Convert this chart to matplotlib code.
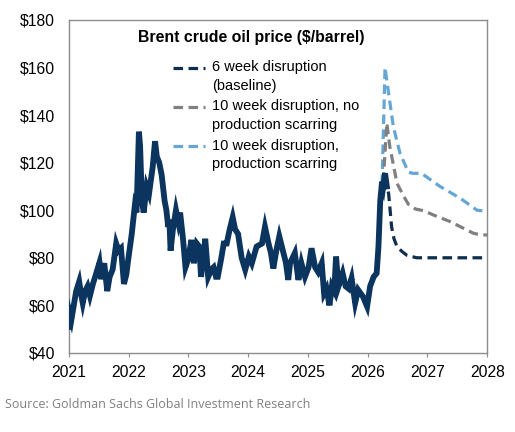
import matplotlib
matplotlib.use("Agg")
import numpy as np
import matplotlib.pyplot as plt
from matplotlib.ticker import FixedLocator
from matplotlib.legend_handler import HandlerLine2D

# ---------------- data ----------------
hist_t = [2021.00, 2021.02, 2021.04, 2021.08, 2021.12, 2021.17, 2021.20, 2021.23, 2021.27, 2021.31,
          2021.35, 2021.40, 2021.45, 2021.51, 2021.54, 2021.59, 2021.64, 2021.68, 2021.73, 2021.79,
          2021.83, 2021.87, 2021.92, 2021.96, 2021.99, 2022.05, 2022.10, 2022.13, 2022.17, 2022.19,
          2022.22, 2022.25, 2022.30, 2022.34, 2022.40, 2022.44, 2022.47, 2022.51, 2022.55, 2022.60,
          2022.63, 2022.66, 2022.68, 2022.70, 2022.74, 2022.79, 2022.83, 2022.86, 2022.91, 2022.95,
          2022.99, 2023.05, 2023.09, 2023.14, 2023.18, 2023.21, 2023.25, 2023.28, 2023.33, 2023.38,
          2023.42, 2023.46, 2023.49, 2023.55, 2023.59, 2023.64, 2023.69, 2023.74, 2023.78, 2023.83,
          2023.89, 2023.95, 2024.01, 2024.06, 2024.14, 2024.23, 2024.28, 2024.34, 2024.38, 2024.42,
          2024.47, 2024.52, 2024.59, 2024.63, 2024.67, 2024.70, 2024.78, 2024.84, 2024.89, 2024.95,
          2025.01, 2025.06, 2025.12, 2025.17, 2025.23, 2025.27, 2025.31, 2025.36, 2025.40, 2025.44,
          2025.47, 2025.51, 2025.58, 2025.63, 2025.68, 2025.73, 2025.79, 2025.84, 2025.92, 2025.99,
          2026.04, 2026.10, 2026.15, 2026.18, 2026.21, 2026.24, 2026.26, 2026.29, 2026.32]
hist_p = [51, 56, 54, 60, 66, 70, 65, 61, 66, 68,
          64, 69, 73, 78, 71, 77.7, 66, 72, 75, 86,
          83, 84, 69, 73, 79, 90, 101.5, 99, 133, 127,
          104, 99, 110, 107, 118, 129, 122.5, 120, 115, 104,
          100, 93, 96, 83, 92, 100, 95, 99, 87.5, 76,
          79, 87.5, 77.7, 86, 84.7, 72, 80, 88, 72, 75,
          76, 72, 72, 80, 86, 86, 92, 97, 92, 90,
          80, 75, 80.5, 77.7, 84.7, 86, 93, 86, 82, 75.5,
          83, 89, 82, 78, 70.7, 77.7, 82, 70.7, 77.7, 72,
          76, 84, 76, 74, 77.7, 65, 67, 60, 68, 66,
          80.5, 68, 73.5, 68, 67, 71.4, 61, 66.5, 63.7, 59.5,
          68, 72, 73.5, 84.7, 104, 112, 110, 115.5, 110]

base_t = [2026.29, 2026.35, 2026.40, 2026.44, 2026.49, 2026.58, 2026.66, 2026.82, 2028.0]
base_p = [114, 107, 93, 88, 84.7, 82.5, 81, 80, 80]

noscar_t = [2026.26, 2026.32, 2026.37, 2026.49, 2026.60, 2026.68, 2026.80, 2026.93, 2027.10,
            2027.38, 2027.77, 2027.90, 2028.0]
noscar_p = [112, 136.6, 126.7, 111.3, 106, 102.5, 100.5, 99.8, 98, 95.2, 90.3, 89.6, 89.6]

scar_t = [2026.24, 2026.29, 2026.35, 2026.43, 2026.54, 2026.68, 2026.75, 2026.90, 2027.21,
          2027.55, 2027.83, 2028.0]
scar_p = [111, 160, 149, 135, 124, 116, 115.5, 115.5, 110, 105, 100, 99.5]

labels = ["6 week disruption\n(baseline)",
          "10 week disruption, no\nproduction scarring",
          "10 week disruption,\nproduction scarring"]
x_ticks = [2021, 2022, 2023, 2024, 2025, 2026, 2027, 2028]
y_ticks = [40, 60, 80, 100, 120, 140, 160, 180]

# ---------------- figure ----------------
NAVY = "#0b355e"
NAVY_D = "#0f2d4d"
GRAY = "#808080"
LBLUE = "#66a6d6"
FONT = "Liberation Sans"


class TopLineHandler(HandlerLine2D):
    """Place the legend sample beside the first line of a two-line label."""
    def create_artists(self, legend, orig_handle, xdescent, ydescent,
                       width, height, fontsize, trans):
        arts = super().create_artists(legend, orig_handle, xdescent, ydescent,
                                      width, height, fontsize, trans)
        for a in arts:
            a.set_ydata(np.asarray(a.get_ydata(), dtype=float) + 0.62 * fontsize)
        return arts


fig = plt.figure(figsize=(5.15, 4.32), dpi=100)
ax = fig.add_axes([0.134, 0.183, 0.812, 0.771])

ax.plot(hist_t, hist_p, color=NAVY, lw=4.2, solid_joinstyle="miter", zorder=4)
dash = (3.0, 1.7)
l3, = ax.plot(scar_t, scar_p, color=LBLUE, lw=2.3, dashes=dash, zorder=3)
l2, = ax.plot(noscar_t, noscar_p, color=GRAY, lw=2.3, dashes=dash, zorder=3)
l1, = ax.plot(base_t, base_p, color=NAVY_D, lw=2.3, dashes=dash, zorder=3)

ax.set_xlim(2021, 2028)
ax.set_ylim(40, 180)
ax.xaxis.set_major_locator(FixedLocator(x_ticks))
ax.yaxis.set_major_locator(FixedLocator(y_ticks))
ax.set_xticklabels([str(v) for v in x_ticks])
ax.set_yticklabels([f"${v}" for v in y_ticks])

for s in ax.spines.values():
    s.set_color("#8c8c8c")
    s.set_linewidth(1.0)
ax.tick_params(axis="x", length=3, color="#8c8c8c", labelsize=11.3, pad=6,
               labelfontfamily=FONT)
ax.tick_params(axis="y", length=0, labelsize=11.3, pad=10,
               labelfontfamily=FONT)

ax.text(0.435, 0.946, "Brent crude oil price ($/barrel)", transform=ax.transAxes,
        ha="center", va="center", fontsize=11.45, fontweight="bold", family=FONT)

h = TopLineHandler()
leg = ax.legend([l1, l2, l3], labels, loc="upper left", bbox_to_anchor=(0.249, 0.879),
                frameon=False, borderpad=0, borderaxespad=0,
                handlelength=2.2, handletextpad=0.48, labelspacing=0.45,
                handler_map={l1: h, l2: h, l3: h},
                prop={"family": FONT, "size": 10.5})
for t in leg.get_texts():
    t.set_linespacing(1.42)

fig.text(0.01, 0.064, "Source: Goldman Sachs Global Investment Research",
         fontsize=9.0, color="#808080", family="Open Sans", va="center")

fig.savefig("out.png", dpi=100)
